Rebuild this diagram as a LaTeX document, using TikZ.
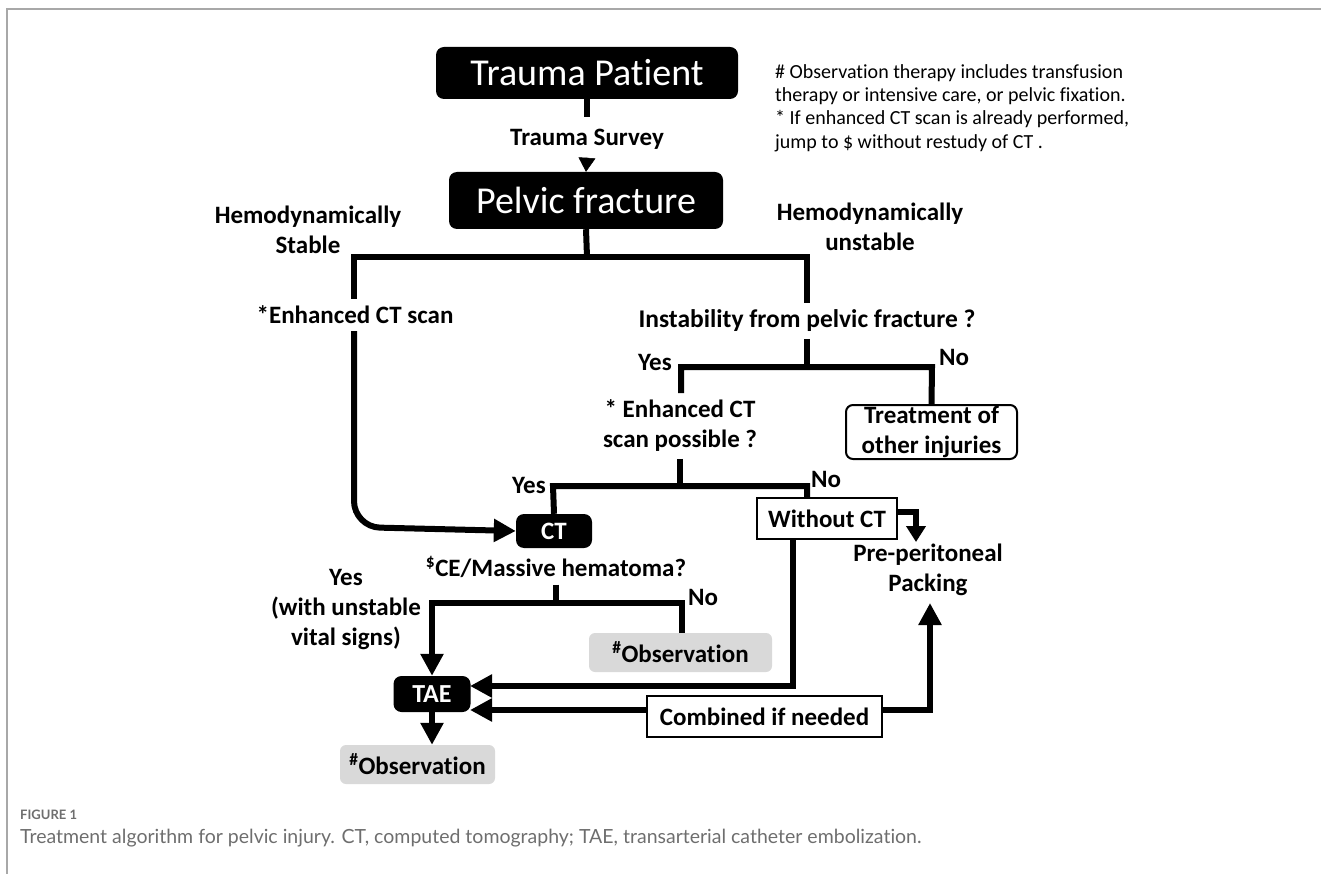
\documentclass[tikz,border=0pt]{standalone}
\usepackage{fontspec}
\setmainfont{Carlito}[Ligatures={NoCommon,NoContextual}]
\newfontfamily\capfont{Lato}[Ligatures={NoCommon,NoContextual}]
\usetikzlibrary{arrows.meta}
\definecolor{obsgray}{HTML}{D9D9D9}
\definecolor{capgray}{HTML}{6E6E6E}
\definecolor{framegray}{HTML}{A8A8A8}
\tikzset{
  blk/.style={fill=black, text=white, rounded corners=8pt, inner sep=0pt},
  obs/.style={fill=obsgray, rounded corners=6pt, inner sep=0pt, font=\bfseries\fontsize{25}{28}\selectfont},
  wbox/.style={draw=black, line width=2pt, fill=white, inner sep=0pt, font=\bfseries\fontsize{25}{28}\selectfont},
  lbl/.style={font=\bfseries\fontsize{25}{30}\selectfont, align=center, inner sep=0pt, outer sep=7pt},
  yn/.style={font=\bfseries\fontsize{25}{30}\selectfont, inner sep=0pt},
  ln/.style={line width=6pt},
  arr/.style={line width=6pt, -{Triangle[length=22pt,width=22pt]}},
  sarr/.style={line width=6pt, -{Triangle[length=16pt,width=19pt]}},
}
\begin{document}
\begin{tikzpicture}[x=1pt,y=-1pt]
\useasboundingbox (0,0) rectangle (1321,874);
% frame
\draw[framegray, line width=1.5pt] (7,874) -- (7,9) -- (1321,9);

% main boxes
\node[blk, minimum width=302pt, minimum height=52pt, font=\fontsize{38}{40}\selectfont] (tp) at (587,73) {Trauma Patient};
\coordinate (tstub) at (587,117);
\node[yn] (ts) at (587,139) {Trauma Survey};
\coordinate (tsarr) at (587,157);
\node[blk, minimum width=274pt, minimum height=57pt, font=\fontsize{38}{40}\selectfont] (pf) at (586,200.5) {Pelvic fracture};

% notes
\node[anchor=north west, align=left, inner sep=0pt, font=\fontsize{20}{23.4}\selectfont] (notes) at (775,64)
{\# Observation therapy includes transfusion\\therapy or intensive care, or pelvic fixation.\\* If enhanced CT scan is already performed,\\jump to \$ without restudy of CT .};

% first split
\node[lbl] (hs) at (308,230) {Hemodynamically\\Stable};
\node[lbl] (hu) at (870,227) {Hemodynamically\\unstable};
\coordinate (j1) at (587,257);
\coordinate (jl) at (354,257);
\coordinate (jr) at (807,257);
\node[lbl] (ect) at (355,315) {*Enhanced CT scan};
\coordinate (bend) at (354,527);
\node[lbl, font=\bfseries\fontsize{25.5}{30}\selectfont] (ins) at (807,321) {Instability from pelvic fracture ?};

% second split
\coordinate (j2) at (807,367);
\coordinate (j2l) at (681,367);
\coordinate (j2r) at (932,367);
\node[yn] (y2) at (655,362) {Yes};
\node[yn] (n2) at (954,357) {No};
\node[lbl] (ecp) at (680,426) {* Enhanced CT\\scan possible ?};
\node[draw=black, line width=2pt, fill=white, rounded corners=7pt, inner sep=0pt, minimum width=171pt, minimum height=54pt, align=center, font=\bfseries\fontsize{25}{30}\selectfont] (to) at (931.5,432) {Treatment of\\other injuries};

% third split
\coordinate (j3) at (680,486);
\coordinate (j3l) at (553,486);
\coordinate (j3r) at (807,486);
\node[yn] (y3) at (529,485) {Yes};
\node[yn] (n3) at (826,479) {No};
\node[blk, minimum width=76pt, minimum height=34pt, font=\bfseries\fontsize{25}{26}\selectfont] (ct) at (554,531) {CT};
\node[wbox, minimum width=140pt, minimum height=41pt] (wct) at (827,518.5) {Without CT};
\coordinate (wctout) at (897,512);
\coordinate (wctc) at (916,512);
\coordinate (wcttip) at (916,542);
\coordinate (wctdown) at (793,539);
\coordinate (wctc2) at (793,686);
\coordinate (tae1) at (470,686);
\node[lbl, outer sep=0pt] (pp) at (928,570) {Pre-peritoneal\\Packing};

% CE split
\node[lbl] (ce) at (556,567) {\textsuperscript{\$}CE/Massive hematoma?};
\coordinate (j4) at (556,603);
\coordinate (j4l) at (432,603);
\coordinate (j4r) at (682,603);
\node[yn] (n4) at (703,597) {No};
\node[lbl] (yv) at (346,610) {Yes\\(with unstable\\vital signs)};
\node[obs, minimum width=183pt, minimum height=39pt] (ob1) at (680.5,652.5) {\textsuperscript{\#}Observation};
\node[blk, minimum width=77pt, minimum height=36pt, font=\bfseries\fontsize{26}{28}\selectfont] (tae) at (432,694) {TAE};
\node[obs, minimum width=155pt, minimum height=39pt] (ob2) at (417.5,764.5) {\textsuperscript{\#}Observation};
\node[wbox, minimum width=235pt, minimum height=41pt] (cmb) at (764.5,716.5) {Combined if needed};
\coordinate (cmbl) at (647,710);
\coordinate (tae2) at (470,710);
\coordinate (cmbr) at (882,710);
\coordinate (cmbc) at (930,710);
\coordinate (pptip) at (930,603);

% connectors
\draw[ln] (tp.south) -- (tstub);
\draw[line width=0.5pt, -{Triangle[length=14pt,width=17pt]}] (tsarr) -- (pf.north);
\draw[ln] (pf.south) -- (j1);
\draw[ln] (jl |- ect.north) -- (jl) -- (jr) -- (jr |- ins.north);
\draw[arr, rounded corners=26pt] (jl |- ect.south) -- (bend) -- (ct.west);
\draw[ln] (ins.south) -- (j2);
\draw[ln] (j2l |- ecp.north) -- (j2l) -- (j2r) -- (to.north);
\draw[ln] (ecp.south) -- (j3);
\draw[ln] (ct.north) -- (j3l) -- (j3r) -- (j3r |- wct.north);
\draw[sarr] (wctout) -- (wctc) -- (wcttip);
\draw[arr] (wctdown) -- (wctc2) -- (tae1);
\draw[arr] (cmbl) -- (tae2);
\draw[arr] (cmbr) -- (cmbc) -- (pptip);
\draw[ln] (ce.south) -- (j4);
\draw[arr] (j4r |- ob1.north) -- (j4r) -- (j4l) -- (tae.north);
\draw[arr] (tae.south) -- (tae.south |- ob2.north);

% caption
\node[anchor=west, inner sep=0pt, text=capgray, font=\capfont\bfseries\fontsize{13}{15}\selectfont] (fig) at (20,815) {FIGURE 1};
\node[anchor=west, inner sep=0pt, text=capgray, font=\capfont\fontsize{19.5}{22}\selectfont] (cap) at (20,838) {Treatment algorithm for pelvic injury. CT, computed tomography; TAE, transarterial catheter embolization.};
\end{tikzpicture}
\end{document}
